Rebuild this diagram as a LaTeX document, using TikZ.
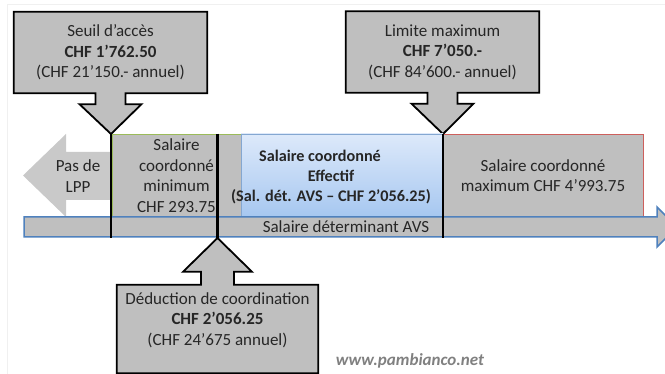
\documentclass[tikz,border=0pt]{standalone}
\usepackage{fontspec}
\setmainfont{Carlito}
\usetikzlibrary{calc}
\usetikzlibrary{backgrounds}
\definecolor{boxgray}{RGB}{191,191,191}
\definecolor{avsblue}{RGB}{79,129,189}
\definecolor{mingreen}{RGB}{155,187,89}
\definecolor{maxred}{RGB}{205,95,92}
\definecolor{efftop}{RGB}{221,233,250}
\definecolor{effbottom}{RGB}{166,199,240}
\tikzset{
  every node/.style={font=\fontsize{17}{20.5}\selectfont, text=black!85, align=center},
  callout/.style={draw=black, line width=1.8pt, fill=boxgray, line join=miter},
  band/.style={fill=boxgray, line width=0.8pt, minimum height=83pt, inner sep=0pt},
  bar/.style={line width=2.4pt, black},
}

\begin{document}
\begin{tikzpicture}[x=1pt,y=-1pt]
    \useasboundingbox (0,0) rectangle (665,374);
    \draw[gray!12] (7,374) -- (7,4) -- (665,4);

    % tranches du salaire
    \node[band, draw=mingreen, minimum width=129pt] (minimum) at (176.5,175.5) {Salaire\\coordonné\\minimum\\CHF 293.75};
    \node[band, draw=avsblue!70, top color=efftop, bottom color=effbottom, minimum width=202pt] (effectif) at (342,175.5) {};
    \node[font=\bfseries\fontsize{16.2}{20}\selectfont] (efftext) at (331,177) {Salaire coordonné\hspace*{22pt}\\Effectif\hspace*{22pt}\\(Sal. dét. AVS – CHF 2’056.25)};
    \node[band, draw=maxred, minimum width=200pt] (maximum) at (543,175.5) {Salaire coordonné\\maximum CHF 4’993.75};

    % pas de LPP
    \fill[boxgray!85] (111,152) -- (66,152) -- (66,134) -- (23,175.5) -- (66,217) -- (66,200) -- (111,200) -- cycle;
    \node (lpp) at (78,176) {Pas de\\LPP};

    % salaire AVS
    \draw[fill=boxgray, draw=avsblue, line width=1.5pt, line join=miter] (24,217) -- (657,217) -- (657,207) -- (677,227) -- (657,247) -- (657,237) -- (24,237) -- cycle;
    \node (avs) at (346,227) {Salaire déterminant AVS};
    \coordinate (avsbottom) at (24,238);

    % seuils
    \coordinate (seuiltip) at (111,134);
    \coordinate (limitetip) at (443,134);
    \coordinate (dedtip) at (217.5,238);
    \draw[bar] (seuiltip) -- (seuiltip |- avsbottom);
    \draw[bar] (limitetip) -- (limitetip |- avsbottom);
    \draw[bar] (dedtip |- minimum.north) -- (dedtip);

    \node[minimum width=193pt, minimum height=81pt, inner sep=0pt] (seuil) at (110.5,52.5) {Seuil d’accès\\\textbf{CHF 1’762.50}\\(CHF 21’150.- annuel)};
    \node[minimum width=193pt, minimum height=81pt, inner sep=0pt] (limite) at (442.5,52) {Limite maximum\\\textbf{CHF 7’050.-}\\(CHF 84’600.- annuel)};
    \node[minimum width=201pt, minimum height=88pt, inner sep=0pt] (ded) at (217.5,329) {};
    \node (dedtext) at (217.5,320) {Déduction de coordination\\\textbf{CHF 2’056.25}\\(CHF 24’675 annuel)};

    \begin{pgfonlayer}{background}
    \draw[callout] (seuil.north west) -- (seuil.north east) -- (seuil.south east)
        -- ($(seuil.south)+(15,0)$) -- ++(0,11) -- ++(16,0) -- (seuiltip)
        -- ($(seuil.south)+(-31,11)$) -- ++(16,0) -- ++(0,-11) -- (seuil.south west) -- cycle;
    \draw[callout] (limite.north west) -- (limite.north east) -- (limite.south east)
        -- ($(limite.south)+(15,0)$) -- ++(0,11) -- ++(16,0) -- (limitetip)
        -- ($(limite.south)+(-31,11)$) -- ++(16,0) -- ++(0,-11) -- (limite.south west) -- cycle;
    \draw[callout] (ded.south west) -- (ded.north west)
        -- ($(ded.north)+(-16.5,0)$) -- ++(0,-13) -- ++(-18,0) -- (dedtip)
        -- ($(ded.north)+(34.5,-13)$) -- ++(-18,0) -- ++(0,13) -- (ded.north east) -- (ded.south east) -- cycle;
    \end{pgfonlayer}

    \node[font=\bfseries\itshape\fontsize{17}{19}\selectfont, text=black!50] (web) at (410,361) {www.pambianco.net};
\end{tikzpicture}
\end{document}
